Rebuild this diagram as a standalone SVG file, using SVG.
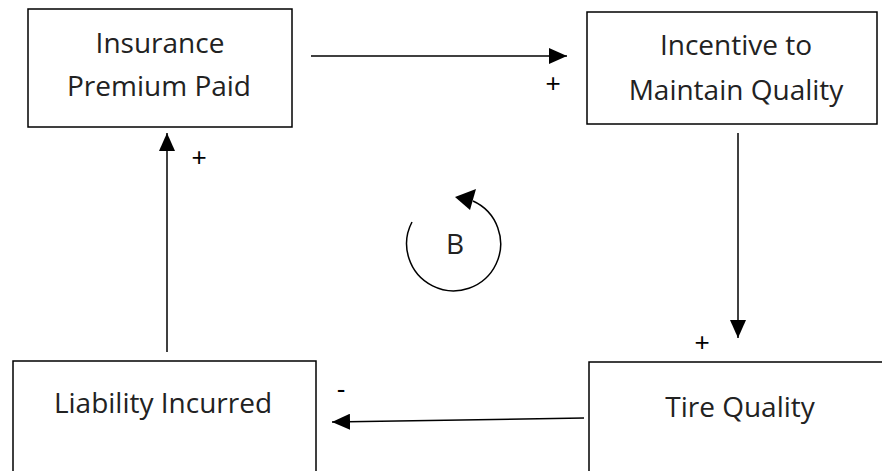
<svg xmlns="http://www.w3.org/2000/svg" width="882" height="471" viewBox="0 0 882 471">
<defs>
<style>
.box{fill:#fff;stroke:#000;stroke-width:1.5}
.lbl{font-family:"Open Sans","Liberation Sans",sans-serif;font-size:28px;fill:#222;text-anchor:middle}
.sign{font-family:"Liberation Sans",sans-serif;font-size:26px;fill:#000;text-anchor:middle}
.edge{stroke:#000;stroke-width:1.5;fill:none}
</style>
<marker id="ahb" viewBox="0 0 10 10" refX="10" refY="5" markerWidth="18" markerHeight="16" markerUnits="userSpaceOnUse" orient="auto" preserveAspectRatio="none">
<path d="M0,0 L10,5 L0,10 Z" fill="#000"/>
</marker>
</defs>
<rect width="882" height="471" fill="#fff"/>
<g id="connectors">
<line class="edge" x1="311" y1="56" x2="567" y2="56" marker-end="url(#ahb)"/>
<line class="edge" x1="738" y1="133" x2="738" y2="338" marker-end="url(#ahb)"/>
<line class="edge" x1="584" y1="418" x2="332" y2="422" marker-end="url(#ahb)"/>
<line class="edge" x1="167" y1="352" x2="167" y2="133" marker-end="url(#ahb)"/>
<text class="sign" x="553" y="92">+</text>
<text class="sign" x="702" y="351">+</text>
<text class="sign" x="341" y="398">-</text>
<text class="sign" x="199" y="166">+</text>
</g>
<g id="loop">
<path class="edge" d="M412,222 A47,47 0 1,0 473,201"/>
<polygon points="455,197 476,189 470,210" fill="#000"/>
<text class="lbl" x="455" y="254">B</text>
</g>
<g id="n1">
<rect class="box" x="28" y="9" width="264" height="118"/>
<text class="lbl" x="160" y="53">Insurance</text>
<text class="lbl" x="159" y="96">Premium Paid</text>
</g>
<g id="n2">
<rect class="box" x="587" y="12" width="290" height="112"/>
<text class="lbl" x="736" y="55">Incentive to</text>
<text class="lbl" x="736" y="100">Maintain Quality</text>
</g>
<g id="n3">
<rect class="box" x="589" y="362" width="300" height="120"/>
<text class="lbl" x="740" y="417">Tire Quality</text>
</g>
<g id="n4">
<rect class="box" x="13" y="361" width="303" height="120"/>
<text class="lbl" x="163" y="413">Liability Incurred</text>
</g>
</svg>
